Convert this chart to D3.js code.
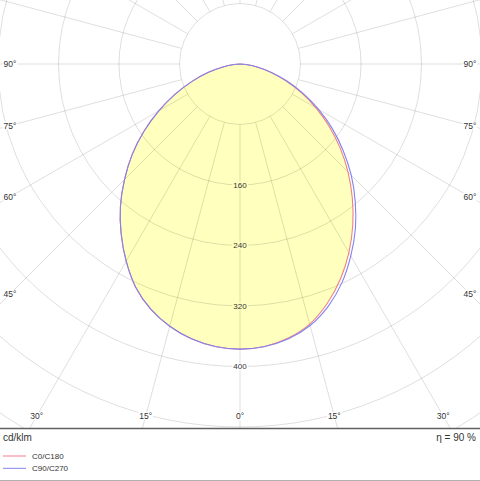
<!DOCTYPE html>
<html>
<head>
<meta charset="utf-8">
<script src="https://cdn.jsdelivr.net/npm/d3@7/dist/d3.min.js"></script>
<style>
  html, body { margin: 0; padding: 0; background: #fff; }
  svg { display: block; }
  text { font-family: "Liberation Sans", Arial, sans-serif; fill: #333; }
</style>
</head>
<body>
<svg id="chart" width="480" height="481"></svg>
<script>
// ---- data (cd/klm), gamma angles from nadir ----
const gammaAngles = [0,5,10,15,20,25,30,35,40,45,50,55,60,65,70,75,80,85,90];
const c0Values   = [377,375,368,356,337,314,288,260,231,202,173,144,116,89,64,42,23,8,0];
const c180Values = [377,375,369,359,345,326,301,274,246,216,186,155,124,95,68,44,23,8,0];
const c90Values  = [377,375,369,358,341,319,293,266,237,208,178,149,120,92,66,43,23,8,0];
const c270Values = [377,375,369,359,345,326,301,274,246,216,186,155,124,95,68,44,23,8,0];
const ringValues = [80,160,240,320,400,480,560,640,720,800];
const ringLabels = [160,240,320,400];
const angleLabels = [0,15,30,45,60,75,90];
const seriesNames = ["C0/C180","C90/C270"];
const efficiencyText = "η = 90 %";
const unitText = "cd/klm";

const W = 480, H = 481, plotH = 428;
const cx = 240, cy = 64;
const colRed = "#f08088", colBlue = "#8282ee", fillCol = "#ffffbe";

const r = d3.scaleLinear().domain([0, 400]).range([0, 302.5]);

const svg = d3.select("#chart");
svg.append("defs").append("clipPath").attr("id","clip")
  .append("rect").attr("x",0).attr("y",0).attr("width",W).attr("height",plotH);
const g = svg.append("g").attr("clip-path","url(#clip)");
const c = g.append("g").attr("transform",`translate(${cx},${cy})`);

function planePoints(rightVals, leftVals) {
  const pts = [];
  for (let i = gammaAngles.length - 1; i >= 0; i--) pts.push({t: -gammaAngles[i]*Math.PI/180, v: leftVals[i]});
  for (let i = 1; i < gammaAngles.length; i++) pts.push({t: gammaAngles[i]*Math.PI/180, v: rightVals[i]});
  return pts;
}
const radial = d3.lineRadial()
  .angle(d => Math.PI - d.t)
  .radius(d => r(d.v))
  .curve(d3.curveCatmullRom.alpha(0.5));

const redPts = planePoints(c0Values, c180Values);
const bluePts = planePoints(c90Values, c270Values);

// fill
c.append("path").attr("d", radial(redPts) + "Z").attr("fill", fillCol).attr("stroke","none");

// grid
const gridCol = "rgba(0,0,0,0.13)";
c.selectAll("circle.ring").data(ringValues).join("circle")
  .attr("class","ring").attr("r", d => r(d))
  .attr("fill","none").attr("stroke",gridCol).attr("stroke-width",1);
const spokes = d3.range(0, 360, 15);
c.selectAll("line.spoke").data(spokes).join("line")
  .attr("class","spoke")
  .attr("x1", d => r(80)*Math.sin(d*Math.PI/180))
  .attr("y1", d => r(80)*Math.cos(d*Math.PI/180))
  .attr("x2", d => 800*Math.sin(d*Math.PI/180))
  .attr("y2", d => 800*Math.cos(d*Math.PI/180))
  .attr("stroke",gridCol).attr("stroke-width",1);

// curves
c.append("path").attr("d", radial(redPts)).attr("fill","none").attr("stroke",colRed).attr("stroke-width",1.1);
c.append("path").attr("d", radial(bluePts)).attr("fill","none").attr("stroke",colBlue).attr("stroke-width",1.1);

// ring labels
ringLabels.forEach(v => {
  const y = cy + r(v);
  const bg = v < c0Values[0] ? fillCol : "#fff";
  const t = g.append("text").attr("x", cx).attr("y", y).attr("text-anchor","middle")
    .attr("dominant-baseline","central").attr("font-size",8).text(v);
  const bb = t.node().getBBox();
  g.insert("rect", () => t.node()).attr("x", bb.x-1).attr("y", y-3.5).attr("width", bb.width+2).attr("height", 7).attr("fill", bg);
});

// angle labels
const labelY = 416, labelX = 10;
angleLabels.forEach(a => {
  const sides = a === 0 ? [1] : [-1, 1];
  sides.forEach(s => {
    let x, y;
    const rad = a*Math.PI/180;
    if (a <= 30) { y = labelY; x = cx + s*(labelY - cy)*Math.tan(rad); }
    else if (a === 90) { y = cy; x = s < 0 ? labelX : W - labelX; }
    else { x = s < 0 ? labelX : W - labelX; y = cy + (cx - labelX)/Math.tan(rad); }
    const t = g.append("text").attr("x", x).attr("y", y).attr("text-anchor","middle")
      .attr("dominant-baseline","central").attr("font-size",8.5).text(a + "°");
    const bb = t.node().getBBox();
    g.insert("rect", () => t.node()).attr("x", bb.x-1).attr("y", y-4).attr("width", bb.width+2).attr("height", 8).attr("fill","#fff");
  });
});

// frame lines
svg.append("line").attr("x1",0).attr("x2",W).attr("y1",428.5).attr("y2",428.5).attr("stroke","#606060").attr("stroke-width",1.5);
svg.append("line").attr("x1",0).attr("x2",W).attr("y1",480.5).attr("y2",480.5).attr("stroke","#b0b0b0").attr("stroke-width",1);

// footer texts
svg.append("text").attr("x",3).attr("y",437).attr("dominant-baseline","central").attr("font-size",10).text(unitText);
svg.append("text").attr("x",476).attr("y",437).attr("text-anchor","end").attr("dominant-baseline","central").attr("font-size",10).text(efficiencyText);

// legend
const legCols = [colRed, colBlue];
seriesNames.forEach((name, i) => {
  const y = 456 + i*12.3;
  svg.append("line").attr("x1",3).attr("x2",26).attr("y1",y).attr("y2",y).attr("stroke",legCols[i]).attr("stroke-width",1);
  svg.append("text").attr("x",32).attr("y",y).attr("dominant-baseline","central").attr("font-size",8).text(name);
});
</script>
</body>
</html>
